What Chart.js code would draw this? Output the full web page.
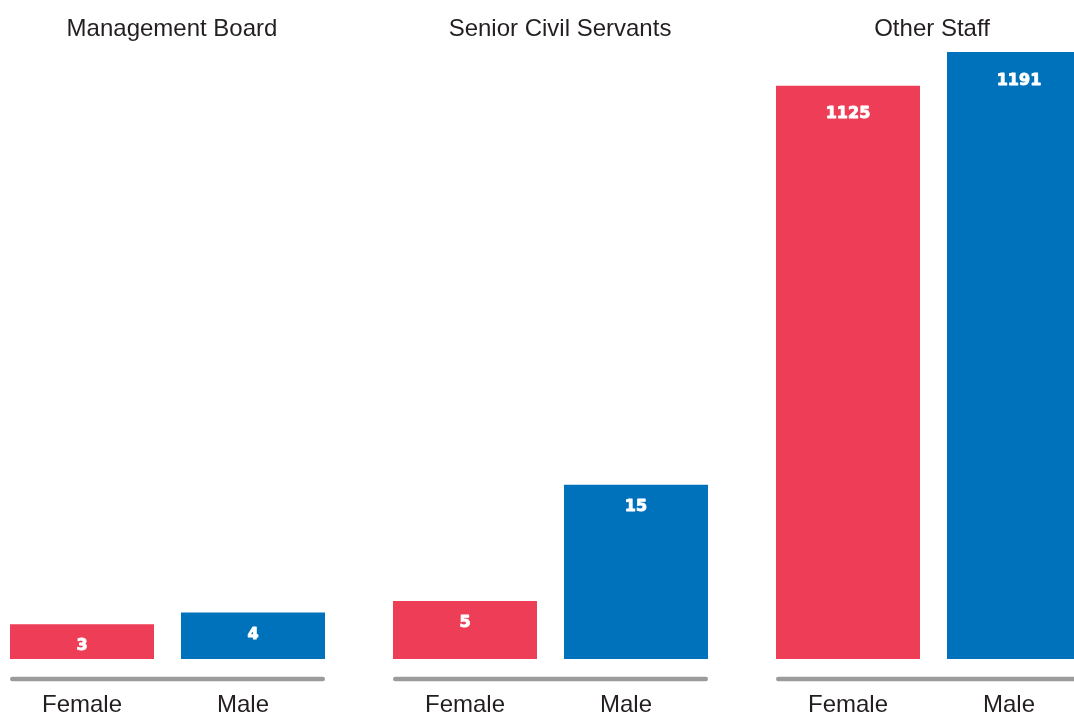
<!DOCTYPE html>
<html>
<head>
<meta charset="utf-8">
<script src="https://cdn.jsdelivr.net/npm/chart.js@4/dist/chart.umd.min.js"></script>
<style>
  html, body { margin: 0; padding: 0; background: #fff; }
  body { width: 1074px; height: 715px; overflow: hidden; position: relative; }
  .panel { position: absolute; top: 0; width: 343px; height: 715px; }
</style>
</head>
<body>
<div class="panel" style="left:-4px"><canvas id="p0"></canvas></div>
<div class="panel" style="left:379px"><canvas id="p1"></canvas></div>
<div class="panel" style="left:762px"><canvas id="p2"></canvas></div>
<script>
// data
const panelTitles = ['Management Board', 'Senior Civil Servants', 'Other Staff'];
const genders = ['Female', 'Male'];
const femaleCounts = [3, 5, 1125];
const maleCounts = [4, 15, 1191];

const RED = '#ee3d56';
const BLUE = '#0071bb';
const INK = '#231f20';

// per panel tweaks (value axis top, label drop, title nudge)
const panelMax = [52.25, 52.25, 1191];
const valueDrop = [26, 26, 32.5];
const titleShift = [4.5, 9.5, -1.5];
const labelShift = [0, -10];

// draws title, value labels, base rule and category labels
const panelDecor = {
    id: 'panelDecor',
    afterDatasetsDraw(chart, args, opts) {
        const ctx = chart.ctx;
        const bars = chart.getDatasetMeta(0).data;
        const xs = chart.scales.x;
        const area = chart.chartArea;
        ctx.save();

        // values inside bars (stroked a little to look heavier)
        ctx.fillStyle = '#fff';
        ctx.strokeStyle = '#fff';
        ctx.lineWidth = 0.9;
        ctx.lineJoin = 'round';
        ctx.font = 'bold 16px "DejaVu Sans", sans-serif';
        ctx.textAlign = 'center';
        ctx.textBaseline = 'alphabetic';
        bars.forEach((bar, i) => {
            const v = String(chart.data.datasets[0].data[i]);
            ctx.fillText(v, bar.x, bar.y + opts.drop);
            ctx.strokeText(v, bar.x, bar.y + opts.drop);
        });

        // grey rule under the pair
        const left = bars[0].x - bars[0].width / 2;
        const right = bars[bars.length - 1].x + bars[bars.length - 1].width / 2;
        ctx.strokeStyle = '#9b9b9d';
        ctx.lineWidth = 4.5;
        ctx.lineCap = 'round';
        ctx.beginPath();
        ctx.moveTo(left + 2.25, area.bottom + 20);
        ctx.lineTo(right - 2.25, area.bottom + 20);
        ctx.stroke();

        // category labels
        ctx.fillStyle = INK;
        ctx.font = '24px "Liberation Sans", Arial, sans-serif';
        chart.data.labels.forEach((lab, i) => {
            ctx.fillText(lab, xs.getPixelForValue(i) + labelShift[i], 712);
        });

        // panel title
        ctx.fillText(opts.title, (area.left + area.right) / 2 + opts.shift, 36);
        ctx.restore();
    }
};

panelTitles.forEach((title, i) => {
    const ctx = document.getElementById('p' + i).getContext('2d');
    new Chart(ctx, {
        type: 'bar',
        data: {
            labels: genders,
            datasets: [{
                data: [femaleCounts[i], maleCounts[i]],
                backgroundColor: [RED, BLUE],
                borderWidth: 0,
                categoryPercentage: 1,
                barPercentage: 144 / 171
            }]
        },
        options: {
            responsive: true,
            maintainAspectRatio: false,
            animation: false,
            layout: { padding: { top: 52, bottom: 56, left: 0.5, right: 0.5 } },
            scales: {
                x: { display: false },
                y: { display: false, min: 0, max: panelMax[i] }
            },
            plugins: {
                legend: { display: false },
                tooltip: { enabled: false },
                panelDecor: { title: title, shift: titleShift[i], drop: valueDrop[i] }
            }
        },
        plugins: [panelDecor]
    });
});
</script>
</body>
</html>
